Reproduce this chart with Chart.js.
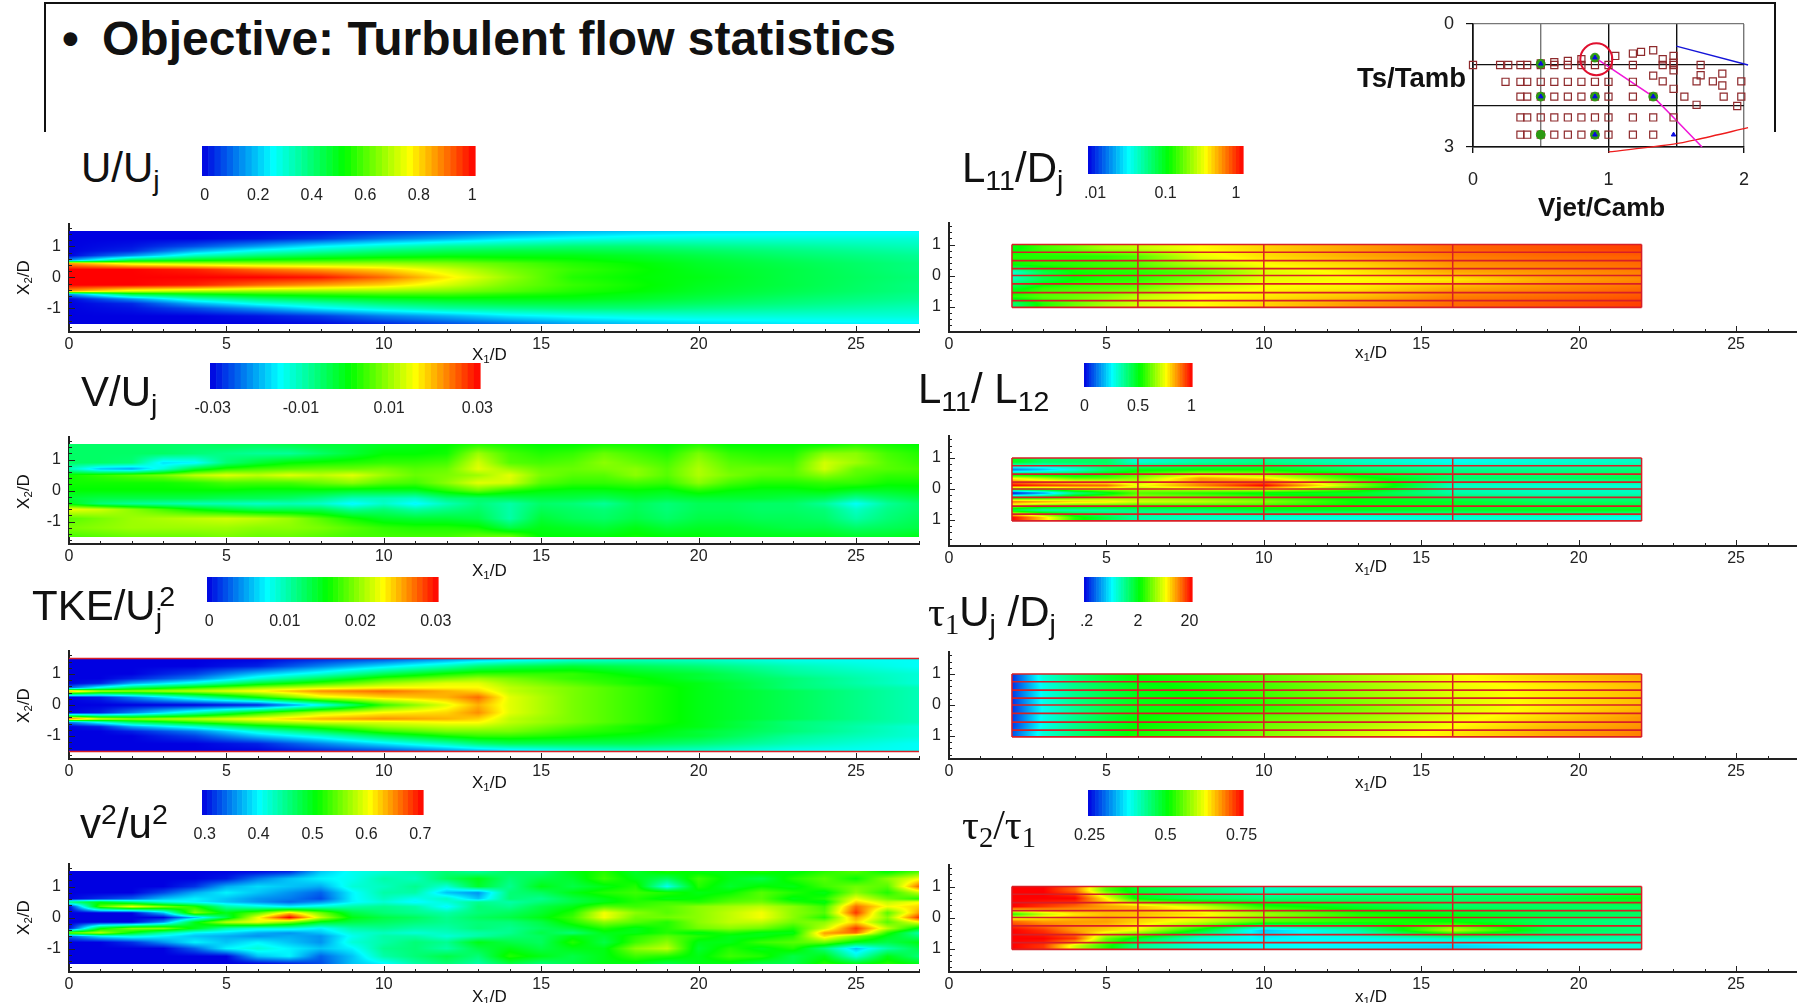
<!DOCTYPE html>
<html>
<head>
<meta charset="utf-8">
<title>Turbulent flow statistics</title>
<script src="https://cdn.jsdelivr.net/npm/chart.js@4/dist/chart.umd.min.js"></script>
<style>
  html, body { margin: 0; padding: 0; background: #fff; overflow: hidden; }
  body { width: 1797px; height: 1003px; position: relative; font-family: "Liberation Sans", Arial, sans-serif; color: #111; }
  canvas { position: absolute; }
  .txt { position: absolute; white-space: nowrap; line-height: 1; }
  .txt sub, .txt sup { font-size: .68em; line-height: 0; }
  .txt sub { vertical-align: -.28em; }
  .txt sup { vertical-align: .5em; }
  .tau { font-family: "Liberation Serif", serif; }
  #frame { position: absolute; left: 44px; top: 2px; width: 1728px; height: 128px; border: 2px solid #111; border-bottom: none; }
</style>
</head>
<body>
<div id="frame"></div>
<script>
// ---- left column: x stations and radial rows ----
const uX = [0, 2, 4, 6, 8, 10, 12, 14, 16, 18, 20, 23, 27];
const uY = [1.5, 1.25, 1, 0.85, 0.7, 0.55, 0.45, 0.25, 0, -0.25, -0.45, -0.55, -0.7, -0.85, -1, -1.25, -1.5];
const uRows = [
  [0, 0, 0, 0, .01, .04, .08, .12, .17, .2, .22, .24, .25],
  [0, 0, 0, .02, .06, .13, .18, .24, .27, .29, .3, .3, .3],
  [0, .02, .08, .16, .25, .31, .36, .38, .4, .4, .38, .36, .33],
  [0, .04, .18, .28, .34, .4, .43, .45, .45, .44, .42, .39, .35],
  [0, .15, .32, .4, .45, .48, .5, .5, .5, .48, .45, .41, .37],
  [.15, .45, .5, .54, .56, .58, .58, .55, .53, .5, .47, .43, .38],
  [.85, .72, .68, .66, .66, .66, .64, .6, .55, .52, .48, .44, .39],
  [1, 1, .97, .9, .85, .8, .72, .63, .57, .53, .49, .45, .39],
  [1, 1, 1, 1, .98, .9, .78, .66, .55, .52, .5, .45, .4],
  [1, 1, .97, .9, .85, .8, .72, .63, .57, .53, .49, .45, .39],
  [.85, .72, .68, .66, .66, .66, .64, .6, .55, .52, .48, .44, .39],
  [.15, .45, .5, .54, .56, .58, .58, .55, .53, .5, .47, .43, .38],
  [0, .15, .32, .4, .45, .48, .5, .5, .5, .48, .45, .41, .37],
  [0, .04, .18, .28, .34, .4, .43, .45, .45, .44, .42, .39, .35],
  [0, .02, .08, .16, .25, .31, .36, .38, .4, .4, .38, .36, .33],
  [0, 0, 0, .02, .06, .13, .18, .24, .27, .29, .3, .3, .3],
  [0, 0, 0, 0, .01, .04, .08, .12, .17, .2, .22, .24, .25]
];

// V/Uj times 1000
const vX = [0, 1, 2, 3, 4, 5, 6, 7, 8, 9, 10, 11, 12, 13, 14, 15, 16, 17, 18, 19, 20, 21, 22, 23, 24, 25, 26, 27];
const vY = [1.5, 1.2, 0.9, 0.7, 0.5, 0.25, 0, -0.25, -0.42, -0.6, -0.9, -1.2, -1.5];
const vRows = [
  [-5, -5, -5, -5, -5, -4, -4, -3, -2, -2, -1, 0, 1, 3, 2, 1, 1, 2, 2, 1, 3, 1, 1, 1, 1, 3, 2, 1],
  [-5, -5, -5, -5, -6, -7, -8, -8, -5, -2, 1, 1, 2, 10, 5, 3, 4, 7, 5, 3, 8, 4, 3, 3, 9, 9, 5, 3],
  [-5, -5, -6, -16, -15, -6, -2, 1, 2, 3, 4, 4, 5, 13, 6, 5, 6, 9, 7, 5, 10, 6, 5, 5, 13, 10, 6, 4],
  [-10, -18, -20, -12, -2, 3, 5, 6, 7, 7, 8, 6, 7, 14, 10, 7, 7, 8, 9, 6, 11, 7, 7, 6, 13, 7, 6, 5],
  [2, 4, 6, 8, 12, 14, 12, 14, 12, 14, 10, 7, 8, 10, 14, 8, 6, 6, 9, 6, 11, 8, 6, 6, 9, 6, 4, 4],
  [2, 2, 2, 2, 3, 5, 5, 5, 7, 9, 6, 5, 9, 14, 13, 6, 4, 4, 5, 4, 9, 5, 3, 3, 4, 4, 2, 2],
  [1, 1, 1, 1, 1, 1, 0, 0, 0, -1, -1, -1, 3, 7, 3, 1, 0, 0, 1, 0, 3, 1, 0, 0, 1, -1, -1, 0],
  [-2, -3, -3, -3, -3, -4, -4, -5, -7, -10, -10, -11, -6, -5, -4, -3, -3, -4, -2, -3, -2, -2, -2, -3, -4, -8, -5, -3],
  [0, -6, -8, -9, -10, -10, -11, -10, -11, -15, -11, -15, -10, -6, -9, -5, -6, -8, -4, -6, -4, -4, -5, -5, -8, -14, -8, -5],
  [15, 13, 9, 5, 1, -2, -4, -4, -4, -8, -6, -9, -7, -5, -9, -4, -5, -6, -4, -6, -4, -4, -5, -5, -6, -11, -7, -5],
  [6, 8, 10, 11, 12, 13, 12, 10, 6, 2, -1, -2, -2, -3, -9, -2, -4, -5, -3, -5, -3, -3, -4, -4, -5, -9, -6, -4],
  [8, 9, 10, 10, 10, 10, 9, 9, 8, 6, 4, 3, 3, 2, -3, 0, -1, -2, 0, -2, -1, -1, -2, -3, -3, -5, -4, -3],
  [5, 6, 7, 7, 7, 8, 7, 7, 6, 5, 5, 5, 5, 7, 8, 1, 1, 1, 2, 1, 1, 0, 0, 0, 0, -1, -1, 0]
];

// TKE/Uj^2 times 1000
const tkeX = [0, 1, 2, 4, 6, 8, 10, 12, 13, 14, 16, 18, 20, 23, 27];
const tkeY = [1.5, 1.25, 1, 0.85, 0.7, 0.55, 0.45, 0.25, 0, -0.25, -0.45, -0.55, -0.7, -0.85, -1, -1.25, -1.5];
const tkeRows = [
  [0, 0, 0, 0, 0, 1, 2, 4, 5, 6, 8, 9, 9, 8, 8],
  [0, 0, 0, 0, 1, 4, 7, 10, 12, 13, 14, 13, 12, 10, 8],
  [0, 0, 0, 2, 6, 9, 13, 16, 17, 17, 17, 15, 14, 11, 9],
  [0, 0, 1, 4, 9, 13, 17, 19, 20, 19, 17, 16, 14, 12, 9],
  [0, 1, 5, 9, 14, 17, 20, 22, 22, 20, 18, 16, 15, 12, 9],
  [3, 9, 13, 17, 20, 22, 23, 23, 23, 21, 19, 17, 15, 12, 10],
  [26, 21, 20, 21, 23, 26, 27, 25, 24, 21, 19, 17, 15, 13, 10],
  [0, 1, 4, 10, 16, 22, 24, 25, 27, 22, 19, 17, 15, 13, 10],
  [0, 0, 0, 0, 1, 8, 17, 22, 25, 22, 19, 17, 15, 13, 10],
  [0, 1, 4, 10, 16, 21, 23, 24, 26, 22, 19, 17, 15, 13, 10],
  [28, 22, 20, 21, 23, 25, 26, 25, 24, 21, 19, 17, 15, 13, 10],
  [4, 9, 13, 17, 20, 22, 22, 23, 23, 21, 19, 17, 15, 12, 10],
  [0, 1, 5, 9, 14, 17, 20, 21, 21, 20, 18, 16, 15, 12, 9],
  [0, 0, 1, 4, 9, 13, 17, 19, 19, 19, 17, 16, 14, 12, 9],
  [0, 0, 0, 2, 6, 9, 13, 16, 17, 17, 16, 15, 14, 11, 9],
  [0, 0, 0, 0, 1, 4, 7, 10, 12, 13, 13, 13, 12, 10, 8],
  [0, 0, 0, 0, 0, 1, 2, 4, 5, 6, 8, 9, 9, 8, 8]
];

// v2/u2 times 100
const ratioX = [0, 1, 2, 3, 4, 5, 6, 7, 8, 9, 10, 11, 12, 13, 14, 15, 16, 17, 18, 19, 20, 21, 22, 23, 24, 25, 26, 27];
const ratioY = [1.5, 1.25, 1, 0.8, 0.6, 0.5, 0.35, 0.15, 0, -0.15, -0.35, -0.5, -0.6, -0.8, -1, -1.25, -1.5];
const ratioRows = [
  [30, 30, 30, 30, 30, 30, 30, 31, 38, 41, 42, 44, 46, 44, 47, 46, 50, 52, 49, 52, 50, 50, 52, 50, 52, 54, 50, 53],
  [30, 30, 30, 30, 30, 31, 35, 38, 40, 41, 44, 43, 47, 50, 46, 48, 49, 53, 50, 47, 53, 50, 48, 52, 54, 51, 56, 60],
  [30, 30, 30, 30, 32, 37, 39, 38, 37, 42, 43, 45, 42, 49, 45, 50, 48, 50, 52, 41, 52, 49, 51, 50, 53, 55, 54, 66],
  [30, 30, 30, 33, 37, 40, 38, 36, 34, 40, 44, 44, 38, 36, 46, 47, 50, 52, 53, 52, 50, 51, 54, 52, 50, 56, 52, 58],
  [30, 32, 34, 38, 40, 38, 36, 35, 33, 40, 43, 41, 43, 38, 46, 45, 48, 50, 52, 50, 51, 53, 54, 50, 52, 60, 55, 52],
  [46, 50, 46, 42, 40, 38, 36, 34, 36, 40, 42, 40, 42, 45, 44, 46, 48, 50, 52, 53, 52, 54, 55, 52, 50, 62, 58, 60],
  [30, 54, 60, 56, 52, 44, 42, 40, 42, 44, 45, 44, 40, 46, 45, 48, 50, 54, 53, 54, 56, 57, 58, 56, 53, 66, 60, 62],
  [30, 30, 30, 38, 56, 50, 54, 62, 55, 48, 46, 45, 44, 46, 47, 49, 52, 60, 56, 54, 56, 58, 60, 56, 54, 68, 54, 64],
  [30, 30, 30, 30, 38, 48, 60, 70, 58, 50, 48, 47, 45, 47, 48, 50, 53, 60, 55, 55, 56, 58, 60, 56, 52, 64, 56, 68],
  [30, 30, 30, 36, 50, 58, 60, 56, 50, 48, 47, 46, 45, 46, 46, 48, 52, 56, 54, 52, 56, 58, 58, 55, 56, 62, 54, 60],
  [30, 50, 56, 56, 50, 44, 42, 42, 40, 44, 45, 44, 44, 46, 45, 47, 49, 52, 50, 52, 55, 56, 55, 52, 58, 68, 58, 50],
  [56, 58, 50, 44, 40, 39, 37, 36, 38, 42, 43, 42, 43, 44, 45, 48, 46, 50, 50, 52, 50, 52, 50, 50, 64, 66, 52, 44],
  [34, 40, 42, 40, 38, 37, 36, 37, 36, 41, 44, 44, 42, 44, 46, 47, 50, 49, 52, 54, 52, 50, 50, 52, 62, 56, 50, 46],
  [30, 30, 32, 36, 40, 38, 40, 38, 36, 42, 44, 46, 45, 50, 48, 47, 52, 48, 53, 56, 50, 50, 53, 54, 55, 50, 48, 50],
  [30, 30, 30, 30, 34, 40, 42, 40, 38, 40, 45, 46, 44, 48, 50, 48, 50, 50, 56, 58, 49, 52, 50, 52, 46, 38, 44, 48],
  [30, 30, 30, 30, 30, 30, 38, 40, 34, 38, 44, 46, 48, 46, 52, 50, 48, 50, 53, 52, 50, 53, 52, 48, 50, 42, 50, 46],
  [30, 30, 30, 30, 30, 30, 30, 31, 33, 38, 40, 44, 46, 44, 48, 46, 48, 50, 50, 48, 50, 50, 48, 48, 52, 50, 52, 50]
];

// ---- right column: values per probe strip, top to bottom ----
const stripX = [2, 3, 4, 5, 6, 8, 10, 13, 16, 19, 22];
const stripY = [0.87, 0.62, 0.35, 0.11, -0.13, -0.41, -0.68, -0.91];
const l11Rows = [
  [.1, .145, .174, .229, .25, .331, .398, .5, .631, .692, .76],
  [.126, .126, .126, .132, .158, .302, .38, .479, .575, .631, .66],
  [.11, .126, .132, .145, .158, .25, .331, .398, .525, .575, .631],
  [.04, .079, .11, .12, .126, .158, .275, .363, .479, .525, .575],
  [.046, .079, .11, .126, .132, .2, .302, .331, .363, .479, .55],
  [.091, .132, .145, .158, .174, .275, .331, .363, .479, .55, .631],
  [.126, .158, .174, .2, .25, .331, .363, .437, .575, .631, .692],
  [.063, .126, .174, .229, .275, .331, .398, .525, .631, .692, .76]
];
const l11l12Rows = [
  [.5, .42, .42, .42, .3, .35, .38, .32, .27, .3, .32],
  [.12, .2, .3, .42, .5, .52, .52, .42, .38, .38, .4],
  [.75, .68, .6, .6, .65, .85, .78, .55, .42, .42, .45],
  [1, .95, .92, .9, .75, .88, 1, .65, .32, .3, .3],
  [0, .15, .38, .48, .6, .55, .5, .48, .35, .33, .33],
  [.9, .85, .8, .78, .72, .7, .65, .52, .48, .42, .42],
  [.45, .35, .35, .36, .4, .42, .48, .5, .48, .5, .5],
  [1, .8, .55, .45, .35, .32, .3, .28, .3, .3, .27]
];
const tau1Rows = [
  [.25, .8, 1.26, 1.74, 2.2, 2.6, 3.2, 4.6, 6.3, 8, 9.6],
  [.25, .72, 1.15, 1.58, 2, 2.4, 2.9, 4.2, 6, 7.2, 8.8],
  [.26, .72, 1.15, 1.58, 2, 2.3, 2.9, 4.2, 5.8, 7.2, 8.8],
  [.25, .72, 1.15, 1.58, 2, 2.2, 2.6, 3.8, 5.5, 7.2, 8.8],
  [.25, .69, 1.1, 1.58, 2, 2.2, 2.6, 3.6, 5.5, 7.2, 9.1],
  [.26, .72, 1.15, 1.66, 2.2, 2.6, 3.2, 4.2, 6, 8, 10.5],
  [.26, .72, 1.15, 1.66, 2.2, 2.6, 3.5, 4.6, 6.6, 8.8, 10.5],
  [.29, .8, 1.26, 1.82, 2.4, 2.9, 3.8, 5.5, 7.2, 9.6, 11.5]
];
const tau2Rows = [
  [.75, .75, .7, .55, .485, .45, .41, .425, .44, .44, .46],
  [.75, .75, .75, .63, .5, .46, .45, .46, .46, .475, .51],
  [.75, .725, .7, .675, .66, .61, .525, .49, .46, .46, .46],
  [.525, .6, .64, .66, .66, .64, .59, .525, .5, .475, .46],
  [.7, .675, .675, .675, .65, .61, .55, .525, .51, .46, .44],
  [.75, .725, .675, .65, .625, .5, .35, .425, .6, .475, .45],
  [.75, .75, .725, .56, .49, .4, .375, .385, .41, .425, .425],
  [.75, .725, .61, .525, .44, .4, .385, .375, .36, .38, .4]
];
const probeStations = [2, 6, 10, 16, 22];
const probeLines = [1, 0.75, 0.48, 0.22, 0, -0.27, -0.55, -0.81, -1.03];

// ---- axis ticks and colour bar labels ----
const xTicks = [0, 5, 10, 15, 20, 25];
const yTicks = [-1, 0, 1];
const uBarLabels = ["0", "0.2", "0.4", "0.6", "0.8", "1"];
const vBarLabels = ["-0.03", "-0.01", "0.01", "0.03"];
const tkeBarLabels = ["0", "0.01", "0.02", "0.03"];
const ratioBarLabels = ["0.3", "0.4", "0.5", "0.6", "0.7"];
const l11BarLabels = [".01", "0.1", "1"];
const l11l12BarLabels = ["0", "0.5", "1"];
const tau1BarLabels = [".2", "2", "20"];
const tau2BarLabels = ["0.25", "0.5", "0.75"];

// ---- test matrix inset ----
const matrixX = [0, .2, .26, .35, .4, .5, .6, .7, .8, .9, 1, 1.18, 1.4, 1.48, 1.68,
  .5, .6, .7, .8, 1.05, 1.18, 1.24, 1.33, 1.4, 1.48, 1.48, 1.48, 1.33, 1.68, 1.84, 1.77, 1.65, 1.4, 1.84, 1.98, 1.48, 1.56, 1.85, 1.98, 1.65, 1.95,
  .24, .35, .4, .5, .6, .7, .8, .9, 1, 1.18,
  .35, .4, .5, .6, .7, .8, .9, 1, 1.18, 1.33,
  .35, .4, .5, .6, .7, .8, .9, 1, 1.18, 1.33, 1.48,
  .35, .4, .5, .6, .7, .8, .9, 1, 1.18, 1.33];
const matrixY = [1, 1, 1, 1, 1, 1, 1, 1, 1, 1, 1, 1, 1, 1, 1,
  .96, .93, .9, .86, .78, .72, .68, .64, .86, .78, .94, 1.13, 1.26, 1.25, 1.21, 1.4, 1.4, 1.4, 1.5, 1.4, 1.58, 1.77, 1.77, 1.77, 1.97, 2,
  1.41, 1.41, 1.41, 1.41, 1.41, 1.41, 1.41, 1.41, 1.41, 1.41,
  1.77, 1.77, 1.77, 1.77, 1.77, 1.77, 1.77, 1.77, 1.77, 1.77,
  2.28, 2.28, 2.28, 2.28, 2.28, 2.28, 2.28, 2.28, 2.28, 2.28, 2.28,
  2.7, 2.7, 2.7, 2.7, 2.7, 2.7, 2.7, 2.7, 2.7, 2.7];
const greenX = [.5, .9, .5, .9, 1.33, .5, .9];
const greenY = [.97, .82, 1.77, 1.77, 1.77, 2.7, 2.7];
const piv3dX = [.5, .9, .5, .9, 1.33, .9, 1.48];
const piv3dY = [.97, .82, 1.77, 1.77, 1.77, 2.7, 2.7];
const selectedX = [.91];
const selectedY = [.86];
const magentaX = [.9, 1.33, 1.48, 1.69];
const magentaY = [.82, 1.77, 2.28, 3];
const blueX = [1.5, 2.03];
const blueY = [.54, 1];
const redX = [1, 1.48, 1.65, 2.03];
const redY = [3.12, 2.93, 2.82, 2.53];

const FONT = "'Liberation Sans', Arial, sans-serif";
const colorStops = [[0, 0, 0, 225], [0.26, 0, 255, 255], [0.52, 0, 255, 0], [0.76, 255, 255, 0], [1, 255, 0, 0]];

function rainbow(t) {
  t = Math.max(0, Math.min(1, t));
  let i = 1;
  while (i < colorStops.length - 1 && t > colorStops[i][0]) i++;
  const a = colorStops[i - 1], b = colorStops[i];
  const f = (t - a[0]) / (b[0] - a[0]);
  return [a[1] + (b[1] - a[1]) * f, a[2] + (b[2] - a[2]) * f, a[3] + (b[3] - a[3]) * f];
}

// index of the interval holding v, plus the fraction inside it
function locate(list, v) {
  const asc = list[list.length - 1] > list[0];
  for (let i = 0; i < list.length - 1; i++) {
    const a = list[i], b = list[i + 1];
    if (asc ? v <= b : v >= b) return [i, Math.max(0, Math.min(1, (v - a) / (b - a)))];
  }
  return [list.length - 2, 1];
}

// paints the contour field of a dataset, sampled through the chart's scales
const fieldPlugin = {
  id: "field",
  beforeDatasetsDraw(chart) {
    const ds = chart.data.datasets.find((d) => d.field);
    if (!ds) return;
    const f = ds.field, sx = chart.scales.x, sy = chart.scales.y;
    const norm = f.log
      ? (v) => (Math.log10(v) - Math.log10(f.min)) / (Math.log10(f.max) - Math.log10(f.min))
      : (v) => (v - f.min) / (f.max - f.min);
    const grid = f.rows.map((r) => r.map(norm));
    const px0 = Math.round(sx.getPixelForValue(f.x0)), px1 = Math.round(sx.getPixelForValue(f.x1));
    const py0 = Math.round(sy.getPixelForValue(f.y0)), py1 = Math.round(sy.getPixelForValue(f.y1));
    const img = chart.ctx.createImageData(px1 - px0, py1 - py0);
    let n = 0;
    for (let py = py0; py < py1; py++) {
      const [j, fy] = locate(f.ys, sy.getValueForPixel(py + 0.5));
      for (let px = px0; px < px1; px++) {
        const [i, fx] = locate(f.xs, sx.getValueForPixel(px + 0.5));
        const top = grid[j][i] + (grid[j][i + 1] - grid[j][i]) * fx;
        const bot = grid[j + 1][i] + (grid[j + 1][i + 1] - grid[j + 1][i]) * fx;
        const c = rainbow(top + (bot - top) * fy);
        img.data[n++] = c[0];
        img.data[n++] = c[1];
        img.data[n++] = c[2];
        img.data[n++] = 255;
      }
    }
    chart.ctx.putImageData(img, px0, py0);
  }
};

// inward tick marks on the two axes
const inwardTicks = {
  id: "inwardTicks",
  afterDatasetsDraw(chart) {
    if (!chart.options.plugins.inwardTicks.show) return;
    const ctx = chart.ctx, sx = chart.scales.x, sy = chart.scales.y;
    const bottom = chart.chartArea.bottom, left = chart.chartArea.left;
    ctx.save();
    ctx.strokeStyle = "#222";
    ctx.lineWidth = 1;
    ctx.beginPath();
    for (let v = 0; v <= 27; v++) {
      const p = Math.round(sx.getPixelForValue(v)) + 0.5;
      ctx.moveTo(p, bottom);
      ctx.lineTo(p, bottom - (v % 5 === 0 ? 6 : 3));
    }
    for (let k = -8; k <= 8; k++) {
      const p = Math.round(sy.getPixelForValue(k * 0.2)) + 0.5;
      ctx.moveTo(left, p);
      ctx.lineTo(left + (k % 5 === 0 ? 6 : 3), p);
    }
    ctx.stroke();
    ctx.restore();
  }
};

// colour ramp of a legend bar
const rampPlugin = {
  id: "ramp",
  beforeDatasetsDraw(chart) {
    if (!chart.options.plugins.ramp.show) return;
    const a = chart.chartArea, steps = 44, ctx = chart.ctx, w = (a.right - a.left) / steps;
    for (let i = 0; i < steps; i++) {
      const c = rainbow((i + 0.5) / steps);
      ctx.fillStyle = `rgb(${c[0]},${c[1]},${c[2]})`;
      ctx.fillRect(a.left + i * w, a.top, w + 0.6, a.bottom - a.top);
    }
  }
};
Chart.register(fieldPlugin, inwardTicks, rampPlugin);

function makeCanvas(left, top, width, height) {
  const c = document.createElement("canvas");
  c.width = width;
  c.height = height;
  c.style.left = left + "px";
  c.style.top = top + "px";
  c.style.width = width + "px";
  c.style.height = height + "px";
  document.body.appendChild(c);
  return c;
}

function addText(html, x, y, size, css) {
  const d = document.createElement("div");
  d.className = "txt";
  d.innerHTML = html;
  d.style.left = x + "px";
  d.style.top = y - size * 0.8465 + "px"; // y is the baseline
  d.style.fontSize = size + "px";
  if (css) d.style.cssText += css;
  document.body.appendChild(d);
  return d;
}

function redLine(x0, y0, x1, y1, width) {
  return {
    type: "scatter",
    data: [{ x: x0, y: y0 }, { x: x1, y: y1 }],
    showLine: true,
    borderColor: "#d81f26",
    borderWidth: width,
    pointRadius: 0,
    clip: false
  };
}

// keep the chart area exact: no extra room for overhanging tick labels
function noPadding(s) {
  s.paddingTop = 0;
  s.paddingBottom = 0;
  s.paddingLeft = 0;
  s.paddingRight = 0;
}

function drawPanel(p) {
  const yAxisW = 45;
  const canvasTop = p.top - 10;
  const height = p.bottom - canvasTop + 34;
  const canvas = makeCanvas(p.left - yAxisW, canvasTop, yAxisW + 850 + 6, height);
  const unit = 31;
  const nodes = [];
  p.field.ys.forEach((y, j) => p.field.xs.forEach((x, i) => nodes.push({ x, y, v: p.field.rows[j][i] })));
  const datasets = [{ label: p.name, data: nodes, field: p.field, pointRadius: 0 }];
  (p.lines || []).forEach((l) => datasets.push(l));
  new Chart(canvas, {
    type: "scatter",
    data: { datasets },
    options: {
      responsive: false,
      animation: false,
      layout: { padding: { top: 10, right: 6, left: 0, bottom: 0 } },
      plugins: { legend: { display: false }, tooltip: { enabled: false }, inwardTicks: { show: true }, ramp: { show: false } },
      scales: {
        x: {
          type: "linear", min: 0, max: 27,
          grid: { display: false, drawTicks: false },
          border: { display: true, color: "#222", width: 2 },
          afterBuildTicks: (s) => { s.ticks = xTicks.map((v) => ({ value: v })); },
          afterFit: (s) => { s.height = 34; noPadding(s); },
          ticks: { color: "#222", font: { size: 16, family: FONT }, padding: 3, maxRotation: 0, autoSkip: false }
        },
        y: {
          type: "linear",
          min: -(p.bottom - p.zero) / unit,
          max: (p.zero - p.top) / unit,
          grid: { display: false, drawTicks: false },
          border: { display: true, color: "#222", width: 2 },
          afterBuildTicks: (s) => { s.ticks = yTicks.map((v) => ({ value: v })); },
          afterFit: (s) => { s.width = yAxisW; noPadding(s); },
          ticks: {
            color: "#222", font: { size: 16, family: FONT }, padding: 8,
            callback: (v) => (p.unsigned ? Math.abs(v) : v)
          }
        }
      }
    }
  });
}

function drawBar(b) {
  const pad = 40, h = b.bottom - b.top;
  const canvas = makeCanvas(b.left - pad, b.top, b.right - b.left + pad * 2, h + 34);
  const n = b.labels.length - 1;
  new Chart(canvas, {
    type: "scatter",
    data: { datasets: [{ data: [], pointRadius: 0 }] },
    options: {
      responsive: false,
      animation: false,
      layout: { padding: { left: pad, right: pad, top: 0, bottom: 0 } },
      plugins: { legend: { display: false }, tooltip: { enabled: false }, inwardTicks: { show: false }, ramp: { show: true } },
      scales: {
        x: {
          type: "linear", min: -b.inset, max: n + b.inset,
          grid: { display: false, drawTicks: false },
          border: { display: false },
          afterBuildTicks: (s) => { s.ticks = b.labels.map((l, i) => ({ value: i })); },
          afterFit: (s) => { s.height = 34; noPadding(s); },
          ticks: { color: "#222", font: { size: 16, family: FONT }, padding: 10, maxRotation: 0, autoSkip: false, callback: (v) => b.labels[v] }
        },
        y: { display: false, min: 0, max: 1 }
      }
    }
  });
}

function zip(xs, ys) {
  return xs.map((x, i) => ({ x, y: ys[i] }));
}

function drawInset() {
  const canvas = makeCanvas(1411, 6, 360, 191);
  const labelledX = [0, 1, 2], labelledY = [0, 3];
  new Chart(canvas, {
    type: "scatter",
    data: {
      datasets: [
        { data: zip(selectedX, selectedY), pointRadius: 16, pointStyle: "circle", borderColor: "#e0102f", borderWidth: 2, backgroundColor: "transparent", clip: false },
        { data: zip(piv3dX, piv3dY), pointRadius: 2.6, pointStyle: "triangle", backgroundColor: "#0a0ae0", borderColor: "#0a0ae0", clip: false },
        { data: zip(greenX, greenY), pointRadius: 4.4, backgroundColor: "#2c9a12", borderColor: "#2c9a12", clip: false },
        { data: zip(matrixX, matrixY), pointRadius: 5, pointStyle: "rect", borderColor: "#8e2a2c", borderWidth: 1.2, backgroundColor: "transparent", clip: false },
        { data: zip(magentaX, magentaY), showLine: true, borderColor: "#f018d8", borderWidth: 1.6, pointRadius: 0, clip: false },
        { data: zip(blueX, blueY), showLine: true, borderColor: "#1414d8", borderWidth: 1.3, pointRadius: 0, clip: false },
        { data: zip(redX, redY), showLine: true, borderColor: "#ee1c1c", borderWidth: 1.3, tension: 0.3, pointRadius: 0, clip: false }
      ]
    },
    options: {
      responsive: false,
      animation: false,
      layout: { padding: { top: 12, right: 27, left: 0, bottom: 0 } },
      plugins: { legend: { display: false }, tooltip: { enabled: false }, inwardTicks: { show: false }, ramp: { show: false } },
      scales: {
        x: {
          type: "linear", min: 0, max: 2,
          afterBuildTicks: (s) => { s.ticks = [0, 0.5, 1, 1.5, 2].map((v) => ({ value: v })); },
          afterFit: (s) => { s.height = 50; noPadding(s); },
          grid: {
            color: (c) => (c.tick && (c.tick.value === 0.5 || c.tick.value === 2) ? "#777" : "#111"),
            lineWidth: 1.4,
            tickLength: 6,
            tickColor: (c) => (c.tick && labelledX.includes(c.tick.value) ? "#111" : "transparent")
          },
          border: { display: true, color: "#111", width: 1.6 },
          ticks: {
            color: "#222", font: { size: 18, family: FONT }, padding: 16, autoSkip: false, maxRotation: 0,
            callback: (v) => (labelledX.includes(v) ? v : "")
          }
        },
        y: {
          type: "linear", min: 0, max: 3, reverse: true,
          afterBuildTicks: (s) => { s.ticks = [0, 1, 2, 3].map((v) => ({ value: v })); },
          afterFit: (s) => { s.width = 62; noPadding(s); },
          grid: {
            color: (c) => (c.tick && c.tick.value === 0 ? "#777" : "#111"),
            lineWidth: 1.2,
            tickLength: 7,
            tickColor: (c) => (c.tick && labelledY.includes(c.tick.value) ? "#111" : "transparent")
          },
          border: { display: true, color: "#111", width: 1.6 },
          ticks: {
            color: "#222", font: { size: 18, family: FONT }, padding: 12,
            callback: (v) => (labelledY.includes(v) ? v : "")
          }
        }
      }
    }
  });
}

// ---- build the page ----
function stripField(rows, min, max, log) {
  return { xs: stripX, ys: stripY, rows, min, max, log, x0: 2, x1: 22, y0: 1, y1: -1.03 };
}
const probeGrid = [
  ...probeStations.map((x) => redLine(x, 1, x, -1.03, 1.5)),
  ...probeLines.map((y) => redLine(2, y, 22, y, 1.7))
];
const tkeEdges = [redLine(0, 1.5, 27, 1.5, 1.6), redLine(0, -1.5, 27, -1.5, 1.6)];

[
  { name: "U/Uj", left: 69, top: 224, bottom: 332, zero: 277.3, field: { xs: uX, ys: uY, rows: uRows, min: 0, max: 1, x0: 0, x1: 27, y0: 1.5, y1: -1.5 } },
  { name: "V/Uj", left: 69, top: 437, bottom: 544, zero: 490.7, field: { xs: vX, ys: vY, rows: vRows, min: -30, max: 30, x0: 0, x1: 27, y0: 1.5, y1: -1.5 } },
  { name: "TKE/Uj2", left: 69, top: 651, bottom: 759, zero: 705, lines: tkeEdges, field: { xs: tkeX, ys: tkeY, rows: tkeRows, min: 0, max: 30, x0: 0, x1: 27, y0: 1.5, y1: -1.5 } },
  { name: "v2/u2", left: 69, top: 864, bottom: 972, zero: 917.5, field: { xs: ratioX, ys: ratioY, rows: ratioRows, min: 30, max: 70, x0: 0, x1: 27, y0: 1.5, y1: -1.5 } },
  { name: "L11/Dj", left: 949, top: 223, bottom: 332, zero: 275.5, unsigned: true, lines: probeGrid, field: stripField(l11Rows, 0.01, 1, true) },
  { name: "L11/L12", left: 949, top: 436, bottom: 546, zero: 489, unsigned: true, lines: probeGrid, field: stripField(l11l12Rows, 0, 1, false) },
  { name: "tau1Uj/Dj", left: 949, top: 652, bottom: 759, zero: 705, unsigned: true, lines: probeGrid, field: stripField(tau1Rows, 0.2, 20, true) },
  { name: "tau2/tau1", left: 949, top: 865, bottom: 972, zero: 917.5, unsigned: true, lines: probeGrid, field: stripField(tau2Rows, 0.25, 0.75, false) }
].forEach(drawPanel);

[
  { left: 202, right: 475, top: 146, bottom: 176, inset: 0.05, labels: uBarLabels },
  { left: 210, right: 480, top: 363, bottom: 389, inset: 0.03, labels: vBarLabels },
  { left: 207, right: 438, top: 577, bottom: 602, inset: 0.03, labels: tkeBarLabels },
  { left: 202, right: 423, top: 790, bottom: 815, inset: 0.05, labels: ratioBarLabels },
  { left: 1088, right: 1243, top: 146, bottom: 174, inset: 0.1, labels: l11BarLabels },
  { left: 1084, right: 1192, top: 363, bottom: 387, inset: 0.01, labels: l11l12BarLabels },
  { left: 1084, right: 1192, top: 577, bottom: 602, inset: 0.05, labels: tau1BarLabels },
  { left: 1088, right: 1243, top: 790, bottom: 816, inset: 0.02, labels: tau2BarLabels }
].forEach(drawBar);

drawInset();

// slide text
addText("•", 62, 56, 48, "font-weight:bold;");
addText("Objective: Turbulent flow statistics", 102, 56, 48, "font-weight:bold;");
addText("Ts/Tamb", 1357, 87, 27.5, "font-weight:bold;");
addText("Vjet/Camb", 1538, 216, 26, "font-weight:bold;");

addText("U/U<sub>j</sub>", 81, 183, 42);
addText("V/U<sub>j</sub>", 81, 407, 42);
addText("TKE/U<sub>j</sub><sup style='margin-left:-.1em'>2</sup>", 32, 621, 42);
addText("v<sup>2</sup>/u<sup>2</sup>", 80, 839, 42);
addText("L<sub>11</sub>/D<sub>j</sub>", 962, 183, 42);
addText("L<sub>11</sub>/ L<sub>12</sub>", 918, 404, 42);
addText("<span class='tau'>τ<sub>1</sub></span>U<sub>j</sub> /D<sub>j</sub>", 928, 627, 42);
addText("<span class='tau'>τ<sub>2</sub>/τ<sub>1</sub></span>", 962, 840, 42);

// axis titles under the panels
[[492, 360], [492, 576], [492, 788], [492, 1002]].forEach((pos) => {
  addText("X<sub>1</sub>/D", pos[0] - 20, pos[1], 17);
});
[[1373, 358], [1373, 572], [1373, 788], [1373, 1002]].forEach((pos) => {
  addText("x<sub>1</sub>/D", pos[0] - 18, pos[1], 17);
});
[283, 497, 711, 923].forEach((y) => {
  const t = addText("X<sub>2</sub>/D", 6, y, 17);
  t.style.transform = "rotate(-90deg)";
});
</script>
</body>
</html>
